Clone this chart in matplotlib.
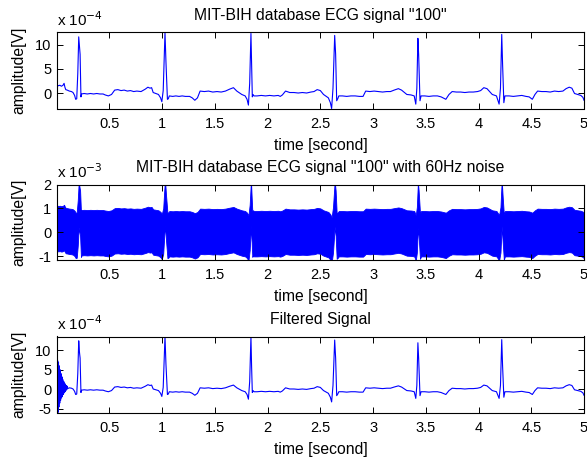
import numpy as np
import matplotlib
matplotlib.use('Agg')
import matplotlib.pyplot as plt

plt.rcParams['font.family'] = ['Liberation Sans', 'DejaVu Sans']

# ECG record "100", vertices (time [s], amplitude x 1e-4 V)
ecg_t = [0.000, 0.015, 0.030, 0.045, 0.060, 0.070, 0.078, 0.086, 0.100, 0.120, 0.140, 0.155, 0.170, 0.180, 0.190,
         0.200, 0.209, 0.216, 0.222, 0.230, 0.236,
         0.26, 0.29, 0.32, 0.35, 0.38, 0.41, 0.44, 0.46, 0.49, 0.52, 0.55, 0.58, 0.61, 0.64, 0.67, 0.70, 0.73,
         0.76, 0.80, 0.84, 0.865, 0.885, 0.90, 0.915, 0.94, 0.965, 0.985, 0.997, 1.010, 1.020, 1.027, 1.036,
         1.050, 1.058, 1.068,
         1.10, 1.13, 1.16, 1.19, 1.22, 1.26, 1.285, 1.31, 1.335, 1.36, 1.40, 1.44, 1.48, 1.52, 1.56, 1.60, 1.64,
         1.676, 1.69, 1.708, 1.735, 1.755, 1.787, 1.805, 1.818, 1.830, 1.842, 1.848, 1.855, 1.862, 1.870,
         1.90, 1.94, 1.98, 2.02, 2.06, 2.10, 2.12, 2.14, 2.17, 2.21, 2.25, 2.29, 2.33, 2.37, 2.41, 2.44, 2.47,
         2.50, 2.53, 2.576, 2.595, 2.607, 2.620, 2.636, 2.645, 2.655, 2.665, 2.675,
         2.71, 2.75, 2.79, 2.83, 2.87, 2.905, 2.93, 2.97, 3.01, 3.05, 3.09, 3.13, 3.165, 3.20, 3.24, 3.27, 3.32,
         3.36, 3.39, 3.405, 3.415, 3.425, 3.432, 3.445, 3.455,
         3.49, 3.53, 3.57, 3.61, 3.645, 3.69, 3.72, 3.75, 3.79, 3.83, 3.87, 3.91, 3.95, 3.99, 4.02, 4.05, 4.08,
         4.13, 4.17, 4.195, 4.208, 4.214, 4.220, 4.228, 4.240, 4.250,
         4.29, 4.33, 4.37, 4.41, 4.45, 4.48, 4.51, 4.535, 4.56, 4.60, 4.64, 4.68, 4.72, 4.76, 4.80, 4.83, 4.86,
         4.885, 4.91, 4.94, 4.97, 4.99, 5.00]
ecg_v = [1.7, 1.5, 1.6, 1.4, 1.6, 2.0, 1.2, 0.7, 0.6, 0.4, 0.3, 0.1, -0.5, -1.3, -1.2,
         4.0, 11.6, 9.5, 8.0, -0.8, -0.2,
         -0.1, -0.2, -0.1, -0.2, -0.1, -0.2, -0.2, -0.4, -0.6, -0.3, 0.6, 0.7, 0.5, 0.6, 0.4, 0.5, 0.3,
         0.4, 0.3, 0.8, 1.2, 1.0, 1.1, 0.1, -0.1, -0.3, -1.0, -1.8, 0.5, 8.0, 12.5, 6.5,
         -1.3, -1.2, -0.6,
         -0.7, -0.6, -0.7, -0.6, -0.7, -0.7, -1.0, -1.5, -1.0, 0.4, 0.3, 0.4, 0.2, 0.3, 0.2, 0.4, 0.8,
         1.1, 0.8, 0.4, 0.0, -0.3, -0.6, -1.3, -2.5, 2.0, 12.3, 6.0, -0.8, -0.3, -0.6,
         -0.6, -0.5, -0.6, -0.5, -0.6, -0.5, -0.7, -0.4, 0.4, 0.1, 0.1, 0.0, 0.1, 0.0, 0.2, 0.3, 0.7,
         0.5, -0.3, -1.0, -2.0, -3.2, 1.0, 11.9, 8.0, -1.6, -1.2, -0.6,
         -0.6, -0.7, -0.6, -0.6, -0.7, -0.7, 0.4, 0.3, 0.4, 0.3, 0.2, 0.3, 0.3, 0.6, 0.9, 0.6, -0.3,
         -0.4, -0.6, -2.3, 1.0, 11.3, 8.0, -1.6, -0.6,
         -0.6, -0.7, -0.6, -0.6, -0.8, -1.3, -0.3, 0.3, 0.2, 0.2, 0.1, 0.2, 0.2, 0.3, 0.5, 1.1, 0.9,
         -0.3, -0.6, -2.3, 1.0, 7.0, 12.1, 6.0, -2.0, -0.6,
         -0.6, -0.7, -0.6, -0.5, -0.7, -0.8, -1.3, -0.3, 0.4, 0.3, 0.3, 0.2, 0.4, 0.3, 0.4, 0.9, 1.2,
         1.0, -0.1, -0.3, -0.5, -0.9, -1.5]

# R-peak times and peak heights after the notch filter (x 1e-4 V)
r_times = [0.209, 1.027, 1.842, 2.636, 3.425, 4.220]
filt_r_peak = [12.4, 13.5, 13.5, 12.6, 11.9, 12.7]

# filter start-up ringing (x 1e-4 V)
filt_start_t = [0.000, 0.003, 0.008, 0.012, 0.017, 0.021, 0.025, 0.029, 0.033, 0.037, 0.042, 0.046, 0.050,
                0.054, 0.058, 0.062, 0.067, 0.071, 0.075, 0.079, 0.083, 0.087, 0.092, 0.096, 0.100, 0.104]
filt_start_v = [10.8, -5.9, 7.5, -5.9, 7.0, -4.5, 6.0, -3.5, 5.0, -2.8, 4.0, -2.2, 3.2,
                -1.8, 2.5, -1.3, 2.0, -0.9, 1.6, -0.6, 1.3, -0.3, 1.0, 0.0, 0.8, 0.2]

# 60 Hz noise amplitude (x 1e-3 V)
noise_amp = 0.95

xtick_vals = [0.5, 1, 1.5, 2, 2.5, 3, 3.5, 4, 4.5, 5]
xtick_labels = ['0.5', '1', '1.5', '2', '2.5', '3', '3.5', '4', '4.5', '5']

ecg_t = np.array(ecg_t)
ecg_v = np.array(ecg_v)

# filtered signal: start-up ringing, then the ECG with its filtered R heights
filt_v = ecg_v.copy()
for rt, pk in zip(r_times, filt_r_peak):
    filt_v[np.isclose(ecg_t, rt)] = pk
keep = ecg_t > 0.11
filt_t = np.concatenate([filt_start_t, ecg_t[keep]])
filt_v = np.concatenate([filt_start_v, filt_v[keep]])

blue = '#0000ff'
fig = plt.figure(figsize=(5.87, 4.58), dpi=100)
W, H = 587, 458
left, right = 57, 584
boxes = [(32.5, 108.5), (184.5, 259.5), (336.5, 412.5)]
axs = [fig.add_axes([left / W, 1 - b / H, (right - left) / W, (b - t) / H]) for t, b in boxes]


def style(ax, ylim, yticks, ylabels, title, expo):
    ax.set_xlim(0.003, 5)
    ax.set_ylim(*ylim)
    ax.set_xticks(xtick_vals)
    ax.set_xticklabels(xtick_labels)
    ax.set_yticks(yticks)
    ax.set_yticklabels(ylabels)
    ax.tick_params(direction='in', top=True, right=True, length=4, width=0.7, labelsize=10.5, pad=4)
    ax.tick_params(axis='x', pad=6)
    for s in ax.spines.values():
        s.set_linewidth(0.8)
    ax.set_xlabel('time [second]', fontsize=11.3, labelpad=5)
    ax.set_ylabel('amplitude[V]', fontsize=11.3)
    ax.yaxis.set_label_coords(-0.058, 0.5)
    ax.set_title(title, fontsize=11.3, pad=9)
    ax.text(0.0, 1.04, 'x 10$^{' + expo + '}$', transform=ax.transAxes, fontsize=11, va='bottom', ha='left')


ax = axs[0]
ax.plot(ecg_t, ecg_v, color=blue, lw=0.8)
style(ax, (-3.2, 12.5), [0, 5, 10], ['0', '5', '10'], 'MIT-BIH database ECG signal "100"', '-4')

ax = axs[1]
ax.fill_between(ecg_t, ecg_v / 10 - noise_amp, ecg_v / 10 + noise_amp, color=blue, lw=0.6)
style(ax, (-1.14, 2.0), [-1, 0, 1, 2], ['-1', '0', '1', '2'],
      'MIT-BIH database ECG signal "100" with 60Hz noise', '-3')

ax = axs[2]
ax.plot(filt_t, filt_v, color=blue, lw=0.8)
style(ax, (-5.9, 13.5), [-5, 0, 5, 10], ['-5', '0', '5', '10'], 'Filtered Signal', '-4')

fig.savefig('out.png', dpi=100, facecolor='white')
